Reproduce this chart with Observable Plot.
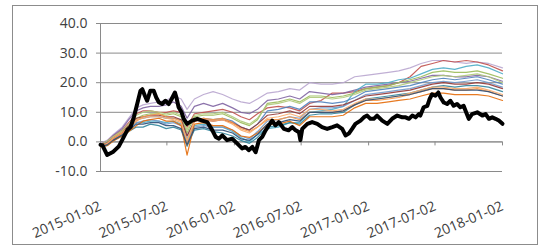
<!DOCTYPE html>
<html>
<head>
<meta charset="utf-8">
<script src="https://cdn.jsdelivr.net/npm/d3@7"></script>
<script src="https://cdn.jsdelivr.net/npm/@observablehq/plot@0.6"></script>
<style>
  html, body { margin: 0; padding: 0; background: #fff; }
  #wrap { position: relative; width: 542px; height: 246px; overflow: hidden; }
  #border { position: absolute; left: 12px; top: 5px; width: 524px; height: 238px; border: 1px solid #8c8c8c; pointer-events: none; }
</style>
</head>
<body>
<div id="wrap"><div id="chart"></div><div id="border"></div></div>
<script>
// ---- tick labels ----
const yTicks = [-10, 0, 10, 20, 30, 40];
const xTickLabels = ["2015-01-02","2015-07-02","2016-01-02","2016-07-02","2017-01-02","2017-07-02","2018-01-02"];

// ---- thick black series ----
const blackDates = ["2015-01-02","2015-01-07","2015-01-20","2015-02-06","2015-02-21","2015-03-02","2015-03-16","2015-03-25","2015-04-03","2015-04-12","2015-04-21","2015-04-26","2015-05-03","2015-05-09","2015-05-18","2015-05-27","2015-06-03","2015-06-10","2015-06-19","2015-06-28","2015-07-07","2015-07-15","2015-07-24","2015-07-28","2015-08-03","2015-08-11","2015-08-17","2015-08-26","2015-09-09","2015-09-23","2015-10-06","2015-10-20","2015-11-03","2015-11-12","2015-11-21","2015-11-30","2015-12-13","2015-12-27","2016-01-10","2016-01-23","2016-02-01","2016-02-10","2016-02-20","2016-02-29","2016-03-09","2016-03-18","2016-03-27","2016-04-05","2016-04-14","2016-04-23","2016-05-02","2016-05-16","2016-05-29","2016-06-08","2016-06-17","2016-06-26","2016-06-30","2016-07-05","2016-07-19","2016-08-01","2016-08-15","2016-08-28","2016-09-11","2016-09-25","2016-10-08","2016-10-22","2016-10-31","2016-11-09","2016-11-18","2016-11-27","2016-12-11","2016-12-20","2016-12-29","2017-01-07","2017-01-16","2017-01-25","2017-02-08","2017-02-22","2017-03-07","2017-03-21","2017-04-04","2017-04-13","2017-04-22","2017-05-01","2017-05-10","2017-05-19","2017-05-23","2017-06-01","2017-06-11","2017-06-17","2017-06-24","2017-07-03","2017-07-11","2017-07-17","2017-07-26","2017-08-04","2017-08-13","2017-08-22","2017-08-31","2017-09-09","2017-09-18","2017-09-23","2017-10-02","2017-10-11","2017-10-25","2017-11-08","2017-11-17","2017-11-26","2017-12-05","2017-12-14","2017-12-23","2018-01-02"];
const blackValues = [-1.0,-1.1,-4.4,-3.3,-1.5,0.6,4.0,5.0,8.4,12.8,17.3,17.8,15.6,13.9,17.3,17.3,15.0,13.4,12.8,13.9,12.8,14.5,16.7,15.0,11.7,10.0,7.8,6.1,7.2,7.8,7.2,6.7,3.9,1.7,1.1,2.2,0.6,1.1,-0.6,-2.2,-1.7,-2.8,-1.7,-3.5,0.6,1.7,3.9,5.6,7.2,5.6,6.7,4.4,3.9,5.0,3.9,3.3,0.6,4.4,6.1,6.7,6.1,5.0,4.4,5.0,5.6,4.4,2.2,2.8,4.4,6.1,7.2,8.3,8.9,7.8,7.8,8.9,7.2,6.1,7.8,8.9,8.3,8.3,7.8,8.9,8.3,9.4,8.9,11.7,12.2,14.4,16.1,15.6,16.7,15.0,13.3,12.8,13.9,12.2,12.8,11.7,12.2,10.6,7.8,9.4,10.0,8.9,9.4,7.8,8.3,7.8,7.2,6.1,5.6];

// ---- thin series (shared dates) ----
const thinDates = ["2015-01-02","2015-01-20","2015-02-06","2015-03-02","2015-03-20","2015-04-10","2015-04-28","2015-05-18","2015-06-10","2015-06-30","2015-07-20","2015-08-10","2015-08-26","2015-09-15","2015-10-10","2015-11-05","2015-12-01","2015-12-28","2016-01-20","2016-02-12","2016-03-05","2016-04-01","2016-05-01","2016-06-01","2016-06-28","2016-07-25","2016-08-25","2016-09-25","2016-10-25","2016-11-25","2016-12-25","2017-01-25","2017-02-25","2017-03-25","2017-04-25","2017-05-25","2017-06-25","2017-07-25","2017-08-25","2017-09-25","2017-10-25","2017-11-25","2018-01-02"];
const lilac    = [-0.5,0.5,2.5,5,8,11.5,12.5,13,13.5,14,15.5,14.5,11,14.5,16,17,16,14.5,13.5,13,14.5,16.5,17,18,17.5,20,19.5,19.5,20,22,22.5,23,23.5,24,25,26.5,27.5,27.5,27,26.5,27,26.5,25];
const red      = [-0.8,0.2,2,4,6.5,9.5,10.5,10.5,10,10,10.5,10,5,9.5,10,10.5,11,10,8.5,7.5,9.5,11.5,12,11.5,10.5,13,14,16.5,16.5,17,18,18.5,19,20,22,25.5,26.5,27.5,27,27.5,27,26,24];
const purple   = [-1,0,2.2,4.5,7.5,10.5,11.5,12,12,12.5,13.5,12,8,12,13,12,13,11.5,10,9.5,11,14,14.5,15.5,14.5,17,16.5,16,16.5,17.5,18.5,19,19.5,20,20.5,21.5,22.5,22.5,22,22,22.5,22,20.5];
const teal     = [-1.5,-1,0.8,2.5,4.5,6.5,6.5,7,7,6.5,7,6,1,5.5,6,5,5,3.5,1.5,0,2.5,4.5,5,6.5,6.5,10,10.5,11,12,17,19.5,19.5,20,21,21.5,23,24.5,25,24.5,25.5,26,25,23];
const green    = [-1.2,-0.5,1.5,3.5,5.5,8,9,9.5,9.5,9,9.5,8.5,3,8.5,9,9,9.5,8,6.5,5.5,7.5,13,13.5,14.5,13.5,15.5,15.5,15,15.5,16.5,18,18.5,19,20,21,22,23.5,24,23.5,23.5,24,23,21.5];
const blue     = [-1,-0.3,1.2,3,5,7.5,8,8.5,8.5,8,8,7.5,2,7,8,7.5,8,7,5,4,6,10.5,11,12,11,13.5,13.5,13,13.5,15,17,17.5,18,18.5,19,20,21,21.5,21,21.5,22,21,19.5];
const ltblue   = [-1.3,-0.8,1,2.8,4.5,6.5,7,7.5,7,6,6.5,5.5,0,5,5.5,5,5,4,2,1,3.5,7,7.5,8.5,8,11,11.5,11.5,12,14,16,16.5,17,17.5,18,19,20,20.5,20,20.5,21,20,18.5];
const dkteal   = [-1.6,-1.2,0.5,2,3.5,5,5,6,5.5,4.5,5,4,-1.5,4,4.5,3.5,3,2,0.5,-0.5,1.5,5,5.5,6.5,6,9,9.5,9.5,10,12.5,14.5,15,15.5,16,16.5,17.5,18.5,19,18.5,19,19,18.5,17];
const ltgreen  = [-0.9,0.2,1.8,3.8,6,9,10,10.5,10,9.5,10,9,4,9,9.5,9.5,10,8.5,7,6,8,12.5,13,14,13,15,15,14.5,15,16,17.5,18,18.5,19,20,21,22,22.5,22,22.5,23,22,20];
const dkred    = [-1.1,-0.4,1.3,3.2,5.5,8,8.5,9,9,8.5,8.5,7.5,2,7,7.5,7,7.5,6.5,5,4,6,9,9.5,10.5,9.5,12,12,12,12.5,14,15.5,16,16.5,17,17.5,18.5,19.5,20,19.5,19.5,20,19.5,18];
const orange   = [-1.4,-0.8,1,2.8,4.5,7,8.5,9,9.5,8.5,8,7,-1,7.5,8,7.5,8,6.5,4.5,3.5,5,7.5,7.5,8.5,7.5,10,10,10,10.5,12.5,14,14,14.5,15,16,17,18,18,17.5,17.5,18,17,15.5];
const dkorange = [-1.7,-1.3,0.3,2,3.5,5.5,7,7.5,8,7,7,5.5,-4.5,6,6.5,5.5,5.5,4,2,1.5,3,6,6,7,5.5,8.5,8.5,8.5,9,11.5,13,13,13.5,14,14.5,15.5,16.5,16.5,16,16,16,15.5,14];
const ltorange = [-1.2,-0.5,1.4,3.3,5,7.5,8,8.5,8.5,8,7.5,6.5,0.5,7,7.5,7,7.5,6,4,3,5,8,8.5,9.5,8.5,11,11,10.5,11,13,14.5,14.5,15,15.5,16.5,17.5,18.5,18.5,18,18,18.5,17.5,16];
const dkblue   = [-1.5,-1,0.6,2.3,4,6,6,6.5,6.5,5.5,5.5,4.5,-1,4.5,5,4,4,3,1,0.5,2.5,6,6.5,7.5,7,10,10,10,10.5,12.5,14,14.5,15,15.5,16,17,18,18,17.5,17.5,17.5,17,15.5];

const thinSeries = [
  [lilac, "#B9A6CF"], [red, "#C0504D"], [purple, "#8064A2"], [teal, "#4BACC6"],
  [green, "#9BBB59"], [blue, "#4F81BD"], [ltblue, "#729ACA"], [dkteal, "#31859C"],
  [ltgreen, "#AFC97A"], [dkred, "#953735"], [orange, "#F79646"], [dkorange, "#E46C0A"],
  [ltorange, "#F9AB6B"], [dkblue, "#2C4D75"]
];

const parse = d3.utcParse("%Y-%m-%d");
const fmt = d3.utcFormat("%Y-%m-%d");
const tDates = thinDates.map(parse);
const bDates = blackDates.map(parse);
const xTicks = xTickLabels.map(parse);

const gridColor = "#8a8a8a";
const textColor = "#404040";

const marks = [
  Plot.gridY(yTicks, {stroke: gridColor, strokeOpacity: 1}),
  Plot.frame({anchor: "left", stroke: gridColor}),
  Plot.ruleY([0], {stroke: gridColor}),
  Plot.ruleX(xTicks, {y1: 0, y2: 0, insetBottom: -4, stroke: gridColor}),
  Plot.axisY(yTicks, {tickSize: 4, tickPadding: 9, stroke: gridColor, fill: textColor, tickFormat: d => d.toFixed(1), label: null}),
  Plot.axisX(xTicks, {tickSize: 0, tickPadding: 34, tickRotate: -23, fill: textColor, tickFormat: fmt, label: null}),
];
for (const [vals, color] of thinSeries) {
  marks.push(Plot.lineY(vals, {x: (d, i) => tDates[i], y: d => d, stroke: color, strokeWidth: 1.2, strokeOpacity: 0.9}));
}
marks.push(Plot.lineY(blackValues, {x: (d, i) => bDates[i], y: d => d, stroke: "#000", strokeWidth: 4, strokeLinejoin: "round"}));

const chart = Plot.plot({
  width: 542,
  height: 246,
  marginLeft: 100,
  marginRight: 40,
  marginTop: 23,
  marginBottom: 75,
  x: {type: "utc", domain: [parse("2015-01-02"), parse("2018-01-02")]},
  y: {domain: [-10, 40]},
  style: {fontFamily: "'Open Sans', sans-serif", fontSize: "14px", background: "#fff", overflow: "visible"},
  marks
});
document.getElementById("chart").append(chart);
</script>
</body>
</html>
